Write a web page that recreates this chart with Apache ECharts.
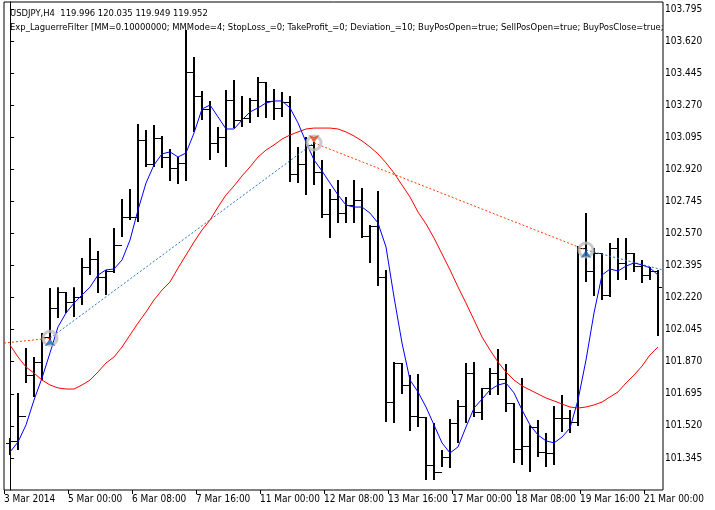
<!DOCTYPE html>
<html>
<head>
<meta charset="utf-8">
<title>USDJPY H4</title>
<script src="https://cdn.jsdelivr.net/npm/echarts@6.0.0/dist/echarts.min.js"></script>
<style>
  body { margin: 0; padding: 0; background: #fff; }
  #main { width: 715px; height: 510px; }
</style>
</head>
<body>
<div id="main"></div>
<script>
// bars are indexed 0..81 (4-hour bars), open/high/low/close
const opens = [101.427,101.438,101.574,101.797,101.868,102.005,102.163,102.250,102.196,102.223,
  102.387,102.430,102.332,102.365,102.507,102.660,102.660,103.080,102.949,103.091,
  102.987,102.927,102.954,103.451,103.320,103.249,103.064,103.096,103.298,103.189,
  103.200,103.298,103.396,103.293,103.255,103.287,102.894,102.949,103.053,102.905,
  102.676,102.758,102.681,102.725,102.753,102.556,102.610,102.332,101.650,101.863,
  101.743,101.574,101.568,101.306,101.268,101.350,101.535,101.628,101.808,101.596,
  101.727,101.808,101.776,101.645,101.394,101.410,101.514,101.377,101.372,101.563,
  101.563,101.541,102.491,102.365,102.463,102.234,102.491,102.409,102.463,102.392,
  102.343,102.365];
const highs = [101.454,101.700,101.945,101.896,102.027,102.272,102.277,102.250,102.277,102.436,
  102.545,102.474,102.371,102.600,102.758,102.813,103.167,103.135,103.162,103.102,
  103.031,102.987,103.680,103.533,103.347,103.293,103.151,103.353,103.407,103.320,
  103.309,103.424,103.396,103.358,103.342,103.320,103.042,103.096,103.069,102.971,
  102.813,102.862,102.769,102.862,102.818,102.616,102.802,102.371,101.868,101.863,
  101.797,101.803,101.568,101.535,101.388,101.557,101.661,101.863,101.868,101.727,
  101.836,101.939,101.857,101.645,101.781,101.524,101.552,101.481,101.628,101.688,
  101.607,102.502,102.682,102.491,102.463,102.518,102.545,102.545,102.463,102.425,
  102.387,102.371];
const lows = [101.361,101.388,101.754,101.678,101.770,101.989,102.109,102.136,102.114,102.180,
  102.343,102.245,102.234,102.354,102.551,102.643,102.632,102.933,102.933,102.927,
  102.856,102.840,102.856,103.124,103.189,102.971,103.009,102.933,103.145,103.151,
  103.173,103.206,103.200,103.189,103.206,102.851,102.845,102.780,102.834,102.654,
  102.545,102.627,102.627,102.627,102.545,102.409,102.283,101.541,101.535,101.694,
  101.492,101.514,101.225,101.225,101.295,101.290,101.427,101.535,101.568,101.552,
  101.688,101.688,101.596,101.317,101.306,101.268,101.350,101.295,101.306,101.486,
  101.481,101.519,102.305,102.229,102.207,102.223,102.316,102.316,102.360,102.300,
  102.316,102.010];
const closes = [101.438,101.574,101.797,101.868,102.005,102.163,102.250,102.196,102.223,102.387,
  102.430,102.332,102.365,102.507,102.660,102.660,103.080,102.949,103.091,102.987,
  102.927,102.954,103.451,103.320,103.249,103.064,103.096,103.298,103.189,103.200,
  103.298,103.396,103.293,103.255,103.287,102.894,102.949,103.053,102.905,102.676,
  102.758,102.681,102.725,102.753,102.556,102.610,102.332,101.650,101.863,101.743,
  101.574,101.568,101.306,101.268,101.350,101.535,101.628,101.808,101.596,101.727,
  101.808,101.776,101.645,101.394,101.410,101.514,101.377,101.372,101.563,101.563,
  101.541,102.491,102.365,102.463,102.234,102.491,102.409,102.463,102.392,102.343,
  102.365,102.277];
// fast Laguerre filter (blue)
const fastLine = [101.377,101.432,101.525,101.661,101.781,101.918,102.060,102.136,102.190,102.234,
  102.277,102.343,102.371,102.376,102.425,102.534,102.698,102.845,102.944,103.004,
  103.015,102.987,103.009,103.118,103.249,103.271,103.206,103.140,103.140,103.189,
  103.233,103.255,103.282,103.293,103.293,103.255,103.173,103.069,102.971,102.911,
  102.845,102.780,102.725,102.714,102.714,102.681,102.627,102.496,102.223,101.972,
  101.770,101.705,101.623,101.525,101.427,101.372,101.405,101.514,101.617,101.666,
  101.716,101.743,101.754,101.700,101.607,101.525,101.470,101.438,101.427,101.459,
  101.508,101.661,101.879,102.136,102.343,102.376,102.365,102.392,102.409,102.398,
  102.382,102.343];
// slow Laguerre filter (red)
const slowLine = [101.961,101.896,101.841,101.808,101.770,101.743,101.727,101.721,101.721,101.743,
  101.770,101.814,101.863,101.896,101.950,102.016,102.081,102.141,102.207,102.261,
  102.305,102.381,102.452,102.523,102.589,102.643,102.714,102.780,102.829,102.884,
  102.933,102.987,103.025,103.053,103.085,103.107,103.124,103.140,103.145,103.145,
  103.145,103.140,103.124,103.102,103.075,103.042,103.004,102.955,102.900,102.834,
  102.769,102.687,102.622,102.545,102.458,102.371,102.278,102.190,102.098,102.005,
  101.934,101.868,101.814,101.770,101.738,101.716,101.694,101.672,101.656,101.639,
  101.623,101.617,101.623,101.634,101.650,101.678,101.705,101.754,101.797,101.846,
  101.907,101.950];
// trade marks: [bar, price]
const buyMarks = [[5, 101.998], [72, 102.480]];
const sellMarks = [[38, 103.064]];
const sellLines = [[[-0.75, 101.972], [5, 101.998]], [[38, 103.064], [72, 102.480]]];
const buyLines = [[[5, 101.998], [38, 103.064]], [[72, 102.480], [81.6, 102.371]]];
const dateLabels = ['3 Mar 2014', '5 Mar 00:00', '6 Mar 08:00', '7 Mar 16:00', '11 Mar 00:00',
  '12 Mar 08:00', '13 Mar 16:00', '17 Mar 00:00', '18 Mar 08:00', '19 Mar 16:00', '21 Mar 00:00'];

const FONT = '"DejaVu Sans Condensed", sans-serif';
const ohlc = opens.map((o, i) => [i, o, highs[i], lows[i], closes[i]]);

function lineData(arr) { return arr.map((v, i) => [i, v]); }
function segs(list, color) {
  return list.map(s => ({
    type: 'line', data: s, symbol: 'none', silent: true, animation: false,
    lineStyle: { color: color, width: 1, type: [2, 2] }, z: 3
  }));
}

const chart = echarts.init(document.getElementById('main'), null, { renderer: 'canvas' });
chart.setOption({
  animation: false,
  backgroundColor: '#fff',
  title: {
    text: 'USDJPY,H4  119.996 120.035 119.949 119.952\nExp_LaguerreFilter [MM=0.10000000; MMMode=4; StopLoss_=0; TakeProfit_=0; Deviation_=10; BuyPosOpen=true; SellPosOpen=true; BuyPosClose=true;',
    left: 5, top: 2,
    textStyle: { fontFamily: FONT, fontSize: 9.4, fontWeight: 'normal', color: '#000', lineHeight: 14,
      width: 656, overflow: 'truncate', ellipsis: '' }
  },
  grid: [
    { left: 4, right: 52, top: 2, bottom: 20, show: true, borderColor: '#000', borderWidth: 1 },
    { left: 4, right: 71, top: 2, bottom: 20 }
  ],
  xAxis: [
    { type: 'value', gridIndex: 0, min: -0.75, max: 81.625, axisLine: { show: false },
      axisTick: { show: false }, axisLabel: { show: false }, splitLine: { show: false } },
    { type: 'category', gridIndex: 1, data: dateLabels, boundaryGap: false, position: 'bottom',
      axisLine: { show: false }, axisTick: { show: true, interval: 0, length: 4, lineStyle: { color: '#000' } },
      axisLabel: { interval: 0, hideOverlap: false, align: 'left', margin: 4, fontFamily: FONT, fontSize: 10, color: '#000' },
      splitLine: { show: false } }
  ],
  yAxis: [
    { type: 'value', gridIndex: 0, position: 'right', min: 101.170, max: 103.833, interval: 0.175,
      axisLine: { show: true, lineStyle: { color: '#000' } },
      axisTick: { show: true, length: 4, inside: false, lineStyle: { color: '#000' } },
      axisLabel: { showMinLabel: false, margin: 2, fontFamily: FONT, fontSize: 10, color: '#000',
        formatter: v => v.toFixed(3) },
      splitLine: { show: false } },
    { type: 'value', gridIndex: 1, show: false }
  ],
  series: [
    {
      type: 'custom', xAxisIndex: 0, yAxisIndex: 0, data: ohlc, z: 2,
      renderItem: function (params, api) {
        const x = Math.round(api.coord([api.value(0), 0])[0]);
        const yo = Math.round(api.coord([0, api.value(1)])[1]) + 0.5;
        const yh = api.coord([0, api.value(2)])[1];
        const yl = api.coord([0, api.value(3)])[1];
        const yc = Math.round(api.coord([0, api.value(4)])[1]) + 0.5;
        return { type: 'group', children: [
          { type: 'line', shape: { x1: x, y1: yh, x2: x, y2: yl }, style: { stroke: '#000', lineWidth: 2 } },
          { type: 'line', shape: { x1: x - 4, y1: yo, x2: x, y2: yo }, style: { stroke: '#000', lineWidth: 1 } },
          { type: 'line', shape: { x1: x, y1: yc, x2: x + 4, y2: yc }, style: { stroke: '#000', lineWidth: 1 } }
        ] };
      }
    },
    { type: 'line', data: lineData(slowLine), symbol: 'none', lineStyle: { color: '#ff0000', width: 1 }, z: 4 },
    { type: 'line', data: lineData(fastLine), symbol: 'none', lineStyle: { color: '#0000ff', width: 1 }, z: 4 },
    ...segs(sellLines, '#ff3b00'),
    ...segs(buyLines, '#1e78c8'),
    { type: 'scatter', data: buyMarks.concat(sellMarks), symbol: 'circle', symbolSize: 14,
      itemStyle: { color: 'rgba(0,0,0,0)', borderColor: '#bdbdbd', borderWidth: 3 }, z: 5 },
    { type: 'scatter', data: buyMarks, symbol: 'arrow', symbolSize: [8, 8],
      itemStyle: { color: '#1464b4' }, z: 6 },
    { type: 'scatter', data: sellMarks, symbol: 'arrow', symbolRotate: 180, symbolSize: [8, 8],
      itemStyle: { color: '#e0401e' }, z: 6 }
  ]
});
</script>
</body>
</html>
